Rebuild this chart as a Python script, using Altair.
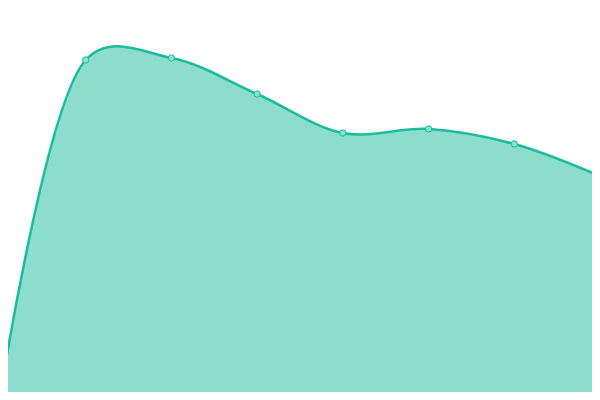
import altair as alt
import pandas as pd

xs = [0, 1, 2, 3, 4, 5, 6, 7]
values = [3, 340, 342, 306, 267, 271, 256, 224]

df = pd.DataFrame({"x": xs, "v": values})

x_enc = alt.X("x:Q", scale=alt.Scale(domain=[0.0933, 6.9067], nice=False, zero=False), axis=None)
y_enc = alt.Y("v:Q", scale=alt.Scale(domain=[8, 392], nice=False, zero=False), axis=None)

area = alt.Chart(df).mark_area(
    interpolate="catmull-rom", tension=0.35, color="#1abc9c", fillOpacity=0.5,
    line={"color": "#1abc9c", "strokeWidth": 2.5}
).encode(x=x_enc, y=y_enc)

pts = alt.Chart(df).mark_point(
    filled=True, size=40, fill="#88e0d0", stroke="#1abc9c", strokeWidth=1, opacity=1
).encode(x=x_enc, y=y_enc)

chart = (area + pts).properties(
    width=584, height=384, padding=0, autosize=alt.AutoSizeParams(type="none")
).configure_view(stroke=None)

chart.save("out.html", embed_options={"renderer": "svg", "actions": False})
